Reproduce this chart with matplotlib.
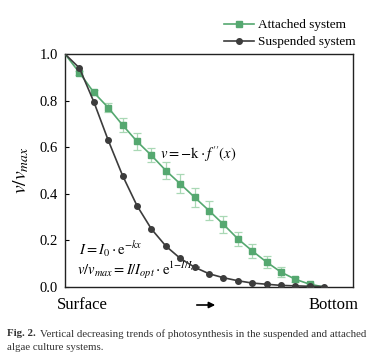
import numpy as np
import matplotlib
matplotlib.use('Agg')
import matplotlib.pyplot as plt

plt.rcParams['font.family'] = ['Liberation Serif', 'DejaVu Serif']
plt.rcParams['mathtext.fontset'] = 'stix'

# depth steps from surface (0) to bottom
depth = np.arange(19)

attached = [1.0, 0.92, 0.835, 0.77, 0.695, 0.625, 0.565, 0.50, 0.443, 0.385,
            0.328, 0.269, 0.207, 0.155, 0.107, 0.064, 0.033, 0.012, 0.0]
attached_err = [0, 0.008, 0.01, 0.02, 0.03, 0.035, 0.03, 0.035, 0.04, 0.04,
                0.04, 0.035, 0.03, 0.03, 0.025, 0.02, 0.01, 0.005, 0]
suspended = [1.0, 0.94, 0.795, 0.63, 0.478, 0.349, 0.249, 0.176, 0.123, 0.085,
             0.057, 0.040, 0.027, 0.017, 0.012, 0.007, 0.005, 0.003, 0.002]

green = '#55a870'
dark = '#3c3c3c'

fig = plt.figure(figsize=(3.79, 3.57), dpi=100)
ax = fig.add_axes([0.1715, 0.196, 0.76, 0.6527])

ax.errorbar(depth[1:-1], attached[1:-1], yerr=attached_err[1:-1], fmt='none',
            ecolor='#a9d8b5', elinewidth=0.9, capsize=3, capthick=0.9, zorder=2)
ax.plot(depth, attached, color=green, lw=1.2, marker='s', ms=4,
        markevery=list(range(1, 18)), label='Attached system', zorder=3)
ax.plot(depth, suspended, color=dark, lw=1.2, marker='o', ms=4,
        markevery=list(range(1, 19)), label='Suspended system', zorder=4)

ax.set_xlim(0, 20)
ax.set_ylim(0, 1.0)
ax.set_xticks([])
ax.set_yticks([0.0, 0.2, 0.4, 0.6, 0.8, 1.0])
ax.set_yticklabels(['0.0', '0.2', '0.4', '0.6', '0.8', '1.0'])
ax.tick_params(axis='y', direction='in', length=3, labelsize=10.5, pad=5)
for s in ax.spines.values():
    s.set_linewidth(1.0)
    s.set_color('#222222')
ax.set_ylabel(r'$v/v_{max}$', fontsize=14, labelpad=6)

ax.text(6.6, 0.57, r"$v = \mathrm{-k}\cdot f''(x)$", fontsize=10.5,
        va='center')
ax.text(1.0, 0.165, r'$I = I_0 \cdot \mathrm{e}^{-kx}$', fontsize=10.5,
        va='center')
ax.text(0.8, 0.073, r'$v/v_{max} = I/I_{opt} \cdot \mathrm{e}^{1\mathrm{-}I/I_{opt}}$',
        fontsize=10.5, va='center')

ax.legend(loc='lower right', bbox_to_anchor=(1.037, 0.99), frameon=False,
          fontsize=9.5, handlelength=2.3, handletextpad=0.3, labelspacing=0.38,
          borderaxespad=0.2)

fig.text(57 / 379, 1 - 305 / 357, 'Surface', fontsize=12, va='center', ha='left')
fig.text(359 / 379, 1 - 305 / 357, 'Bottom', fontsize=12, va='center', ha='right')
fig.add_artist(matplotlib.patches.FancyArrowPatch(
    (194 / 379, 1 - 305 / 357), (218 / 379, 1 - 305 / 357),
    transform=fig.transFigure, arrowstyle='-|>', mutation_scale=9,
    color='black', lw=1.2))

cap_size = 7.85
fig_lbl = fig.text(7 / 379, 1 - 334 / 357, 'Fig. 2. ', fontsize=cap_size,
                   weight='bold', va='center', ha='left', color='#333333')
fig.canvas.draw()
bb = fig_lbl.get_window_extent()
fig.text(bb.x1 / fig.bbox.width + 2 / 379, 1 - 334 / 357,
         'Vertical decreasing trends of photosynthesis in the suspended and attached',
         fontsize=cap_size, va='center', ha='left', color='#333333')
fig.text(7 / 379, 1 - 348 / 357, 'algae culture systems.', fontsize=cap_size,
         va='center', ha='left', color='#333333')

fig.savefig('out.png', dpi=100)
